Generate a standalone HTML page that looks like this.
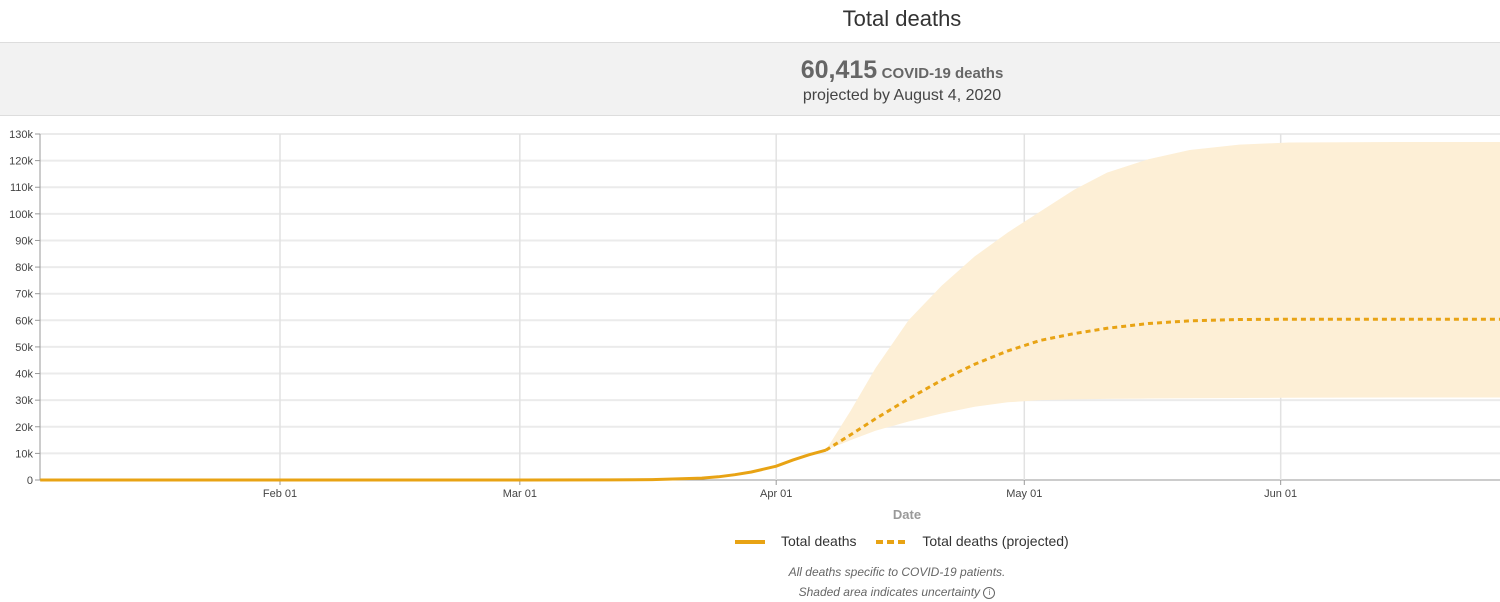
<!DOCTYPE html>
<html><head><meta charset="utf-8"><style>
body{margin:0;width:1500px;height:602px;background:#fff;font-family:"Liberation Sans",Arial,sans-serif;overflow:hidden;position:relative}
.t{position:absolute;left:152px;width:1500px;text-align:center}
</style></head><body>
<div class="t" style="top:6px;font-size:22px;color:#333">Total deaths</div>
<div style="position:absolute;left:0;top:42px;width:1500px;height:72px;background:#f2f2f2;border-top:1px solid #ddd;border-bottom:1px solid #ddd">
 <div class="t" style="top:13px;color:#666"><b style="font-size:25px">60,415</b> <b style="font-size:15px">COVID-19 deaths</b></div>
 <div class="t" style="top:44px;font-size:16px;color:#444">projected by August 4, 2020</div>
</div>
<svg id="c" width="1500" height="602" style="position:absolute;left:0;top:0"></svg>
<div class="t" style="top:507px;left:157px;font-size:13px;font-weight:bold;color:#999">Date</div>
<div style="position:absolute;top:533px;left:735px;font-size:14px;color:#333;white-space:nowrap">
 <span><span style="display:inline-block;width:30px;height:4px;background:#e8a314;vertical-align:middle;margin-right:16px"></span>Total deaths</span>
 <span style="margin-left:16px"><span style="display:inline-block;width:30px;height:4px;background:repeating-linear-gradient(90deg,#e8a314 0 7px,transparent 7px 11px);vertical-align:middle;margin-right:16px"></span>Total deaths (projected)</span>
</div>
<div class="t" style="top:562px;left:147px;font-size:12px;font-style:italic;color:#666;line-height:20px">All deaths specific to COVID-19 patients.<br>Shaded area indicates uncertainty <span style="display:inline-block;width:10px;height:10px;border:1px solid #666;border-radius:50%;font-size:8px;line-height:10px;font-style:normal;vertical-align:middle">i</span></div>
<script>
const yTicks=[0,10,20,30,40,50,60,70,80,90,100,110,120,130];
const xTickLabels=["Feb 01","Mar 01","Apr 01","May 01","Jun 01"];
const xTickDays=[0,29,60,90,121];
const actualDays=[-29,-10,0,20,29,40,45,48,51,53,55,57,60,62,64,66];
const actualVals=[0,0,0,0,0,50,150,400,700,1200,2000,3000,5200,7500,9500,11200];
const projDays=[66,69,72,76,80,84,88,92,96,100,105,110,116,122,135,147];
const projVals=[11200,17000,23000,30500,37500,43500,48500,52500,55000,57000,58800,59800,60300,60400,60415,60415];
const upperVals=[11200,26000,42000,60000,73000,84000,93000,101000,109000,115500,120500,124000,126000,126800,127000,127000];
const lowerVals=[11200,15000,18500,22000,25000,27500,29200,30000,30300,30500,30600,30700,30800,30900,31000,31000];
const svg=document.getElementById('c'),NS='http://www.w3.org/2000/svg';
const L=40,R=1500,T=134,B=480;
const x=d=>280+d*8.27;
const y=v=>B-v/130000*(B-T);
function mk(t,a){const e=document.createElementNS(NS,t);for(const k in a)e.setAttribute(k,a[k]);svg.appendChild(e);return e;}
yTicks.forEach(v=>{
 const g=mk('line',{x1:L,x2:R,y1:y(v*1000),y2:y(v*1000),stroke:v?'#ebebeb':'#999','stroke-width':v?2:1});
 
 mk('line',{x1:L-5,x2:L,y1:y(v*1000),y2:y(v*1000),stroke:'#999'});
 const t=mk('text',{x:L-7,y:y(v*1000)+4,'text-anchor':'end','font-size':11,fill:'#444'});t.textContent=v?v+'k':'0';
 
});
xTickDays.forEach((d,i)=>{
 const g=mk('line',{x1:x(d),x2:x(d),y1:T,y2:B,stroke:'#e2e2e2','stroke-width':1.5});
 
 mk('line',{x1:x(d),x2:x(d),y1:B,y2:B+5,stroke:'#999'});
 const t=mk('text',{x:x(d),y:B+17,'text-anchor':'middle','font-size':11,fill:'#444'});t.textContent=xTickLabels[i];
 
});
mk('line',{x1:L,x2:L,y1:T,y2:B,stroke:'#999'});
const last=projDays.length-1;
const band=mk('polygon',{points:projDays.map((d,i)=>(i==last?R:x(d))+','+y(upperVals[i])).concat(projDays.map((d,i)=>(i==last?R:x(d))+','+y(lowerVals[i])).reverse()).join(' '),fill:'#fdefd6'});

const a=mk('polyline',{points:actualDays.map((d,i)=>Math.max(L,x(d))+','+y(actualVals[i])).join(' '),fill:'none',stroke:'#e8a314','stroke-width':3});

const pr=mk('polyline',{points:projDays.map((d,i)=>(i==last?R:x(d))+','+y(projVals[i])).join(' '),fill:'none',stroke:'#e8a314','stroke-width':3,'stroke-dasharray':'5,4'});

</script>
</body></html>
